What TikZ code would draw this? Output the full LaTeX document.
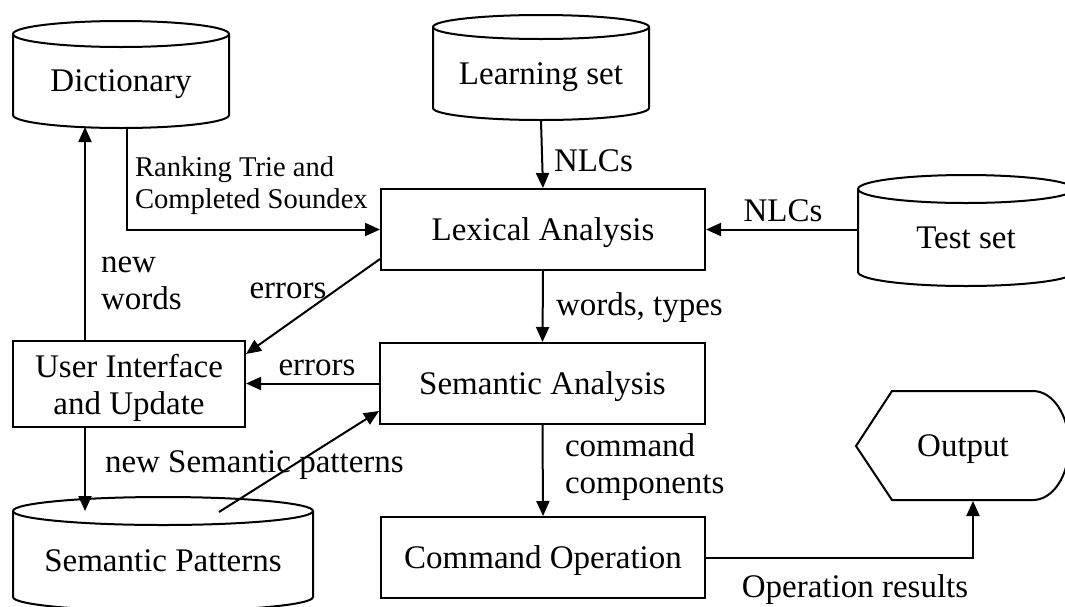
\documentclass[tikz,border=0pt]{standalone}
\usepackage{fontspec}
\setmainfont{Liberation Serif}
\usetikzlibrary{arrows.meta,calc}

% cylinder outline: #1 centre x, #2 y of top ellipse centre, #3 y of bottom ellipse centre,
% #4 x radius, #5 y radius
\newcommand\drawcyl[5]{%
  \draw (#1,#2) ellipse[x radius=#4, y radius=#5];
  \draw ([xshift=-#4]#1,#2) -- ([xshift=-#4]#1,#3)
        arc[start angle=180, end angle=360, x radius=#4, y radius=#5]
        -- ([xshift=#4]#1,#2);}

\begin{document}
\begin{tikzpicture}[x=0.5pt, y=-0.5pt, line width=1pt,
  every node/.style={font=\fontsize{16.5}{18.5}\selectfont},
  box/.style={draw, rectangle, inner sep=0pt, align=center, text depth=0pt},
  dbnode/.style={inner sep=0pt, align=center, text depth=0pt},
  lbl/.style={inner sep=0pt, align=left},
  smalltext/.style={font=\fontsize{14.3}{16}\selectfont},
  arr/.style={-{Triangle[length=7.5pt, width=6.5pt]}}]

\useasboundingbox (0,0) rectangle (1065,606);
\clip (0,0) rectangle (1065,606);

% data stores
\drawcyl{121}{34}{115}{54pt}{6.5pt}
\node[dbnode, minimum width=108pt, minimum height=47pt] (dict) at (121,81) {Dictionary};

\drawcyl{541}{27}{108}{54pt}{6pt}
\node[dbnode, minimum width=108pt, minimum height=46.5pt] (learn) at (541,73.5) {Learning set};

\drawcyl{966}{189}{272}{54pt}{7pt}
\node[dbnode, minimum width=108pt, minimum height=48.5pt] (test) at (966,237.5) {Test set};

\drawcyl{163}{511}{597}{75pt}{7pt}
\node[dbnode, minimum width=150pt, minimum height=50pt] (sempat) at (163,561) {Semantic Patterns};

% processing steps
\node[box, minimum width=162pt, minimum height=40.5pt] (lex) at (543,229.5) {Lexical Analysis};
\node[box, minimum width=162.5pt, minimum height=40.5pt] (sem) at (542.5,383.5) {Semantic Analysis};
\node[box, minimum width=162pt, minimum height=40.5pt] (cmd) at (543,557.5) {Command Operation};
\node[box, minimum width=116pt, minimum height=43pt] (ui) at (129,384) {User Interface\\and Update};

% display shape
\draw (856,446) -- (892,391) -- (1033,391)
      arc[start angle=90, end angle=-90, x radius=18pt, y radius=27.25pt]
      -- (892,500) -- cycle;
\node[dbnode, minimum width=107pt, minimum height=54.5pt] (out) at (963,445.5) {Output};

% connector end points on the cylinder outlines
\coordinate (dictin) at (85,127);
\coordinate (spin) at (85,511);
\coordinate (spout) at (219,512);

% connectors
\draw[arr] (learn.south) -- (lex.north);
\draw[arr] (test.west |- lex.east) -- (lex.east);
\draw[arr] ([xshift=3pt]dict.south) |- (lex.west);
\draw[arr] (dictin |- ui.north) -- (dictin);
\draw[arr] ([yshift=6pt]lex.south west) -- ([yshift=-7pt]ui.north east);
\draw[arr] (sem.west) -- (sem.west -| ui.east);
\draw[arr] (spin |- ui.south) -- (spin);
\draw[arr] (spout) -- ([yshift=7pt]sem.south west);
\draw[arr] (lex.south) -- (sem.north);
\draw[arr] (sem.south) -- (cmd.north);
\draw[arr] (cmd.east) -| ([xshift=5pt]out.south);

% connector labels
\node[lbl, anchor=west] (l1) at (553,161) {NLCs};
\node[lbl] (l2) at (783,211) {NLCs};
\node[lbl, smalltext, anchor=west] (l3) at (134,186) {Ranking Trie and\\Completed Soundex};
\node[lbl, anchor=west] (l4) at (100,283) {new\\words};
\node[lbl] (l5) at (288,291) {errors};
\node[lbl] (l6) at (317,368) {errors};
\node[lbl, anchor=west] (l7) at (555,308) {words, types};
\node[lbl, anchor=west] (l8) at (564,467) {command\\components};
\node[lbl, anchor=west] (l9) at (104,465) {new Semantic patterns};
\node[lbl] (l10) at (855,590) {Operation results};

\end{tikzpicture}
\end{document}
